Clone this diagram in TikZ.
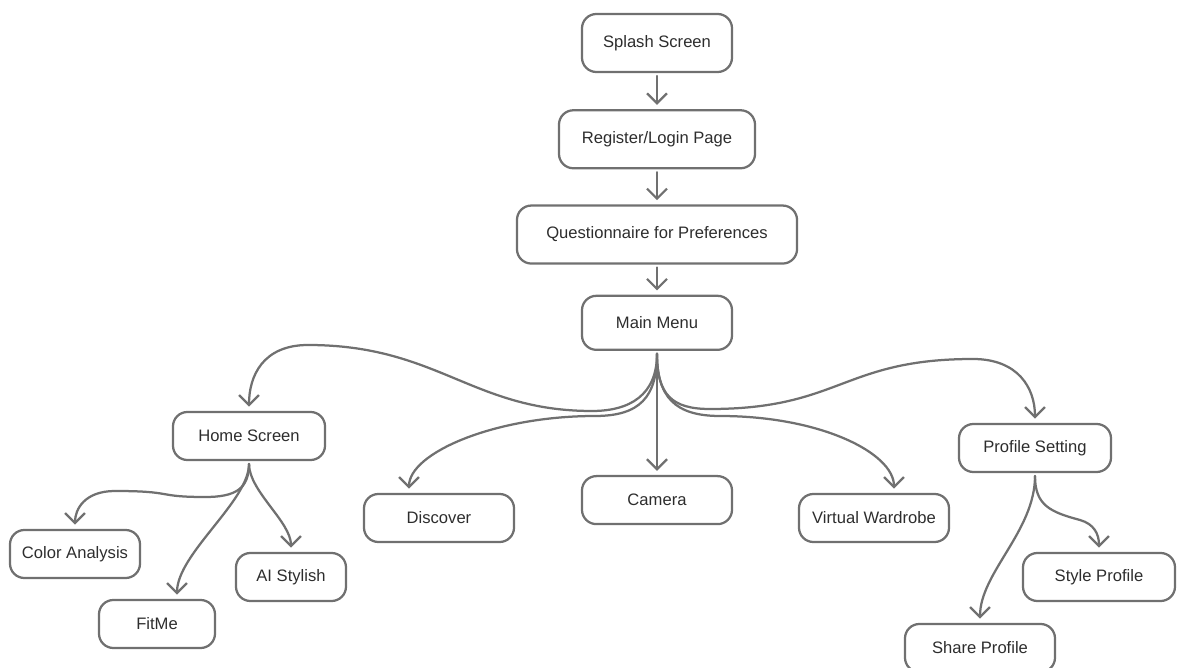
\documentclass[tikz,border=0pt]{standalone}
\usepackage{fontspec}
\setmainfont{Liberation Sans}
\usetikzlibrary{arrows.meta, positioning}
\definecolor{linegray}{RGB}{112,112,112}
\definecolor{textgray}{RGB}{45,45,45}
\tikzset{
    screen/.style = {rectangle, rounded corners=3.6mm, minimum height=1.2cm, text centered, draw=linegray, line width=1.6pt, text=textgray, font=\fontsize{11.8}{14}\selectfont},
    arrow/.style = {draw=linegray, line width=1.6pt, line cap=round, -{Straight Barb[length=2.5mm, width=5mm, line width=1.6pt]}, shorten <=2pt, shorten >=3pt}
}

\begin{document}
\begin{tikzpicture}[x=0.025cm, y=-0.025cm]
\useasboundingbox (0,0) rectangle (1178,668);

% Main flow
\node (splash) [screen, minimum width=3.75cm, minimum height=1.45cm] at (657,43) {Splash Screen};
\node (login) [screen, minimum width=4.9cm, minimum height=1.45cm, below=0.9cm of splash] {Register/Login Page};
\node (quest) [screen, minimum width=7cm, minimum height=1.45cm, below=0.875cm of login] {Questionnaire for Preferences};
\node (menu) [screen, minimum width=3.75cm, minimum height=1.35cm, below=0.75cm of quest] {Main Menu};

% Menu branches
\node (camera) [screen, minimum width=3.75cm, below=3.1cm of menu] {Camera};
\node (home) [screen, minimum width=3.8cm] at (249,436) {Home Screen};
\node (discover) [screen, minimum width=3.75cm] at (439,518) {Discover};
\node (wardrobe) [screen, minimum width=3.75cm] at (874,518) {Virtual Wardrobe};
\node (profile) [screen, minimum width=3.8cm] at (1035,448) {Profile Setting};

% Sub screens
\node (color) [screen, minimum width=3.25cm] at (75,554) {Color Analysis};
\node (fitme) [screen, minimum width=2.9cm] at (157,624) {FitMe};
\node (stylish) [screen, minimum width=2.75cm] at (291,577) {AI Stylish};
\node (styleprof) [screen, minimum width=3.8cm] at (1099,577) {Style Profile};
\node (share) [screen, minimum width=3.75cm] at (980,648) {Share Profile};

% Connections - main flow
\draw [arrow] (splash) -- (login);
\draw [arrow] (login) -- (quest);
\draw [arrow] (quest) -- (menu);

% Connections - menu fan
\draw [arrow] (menu.south) -- (camera.north);
\draw [arrow] (menu.south) .. controls +(0,44) and +(38,0) .. (592,411)
    .. controls +(-120,0) and +(130,0) .. (308,345)
    .. controls +(-45,0) and +(0,-35) .. (home.north);
\draw [arrow] (menu.south) .. controls +(0,46) and +(45,0) .. (595,416)
    .. controls +(-100,0) and +(0,-40) .. ([xshift=-0.75cm]discover.north);
\draw [arrow] (menu.south) .. controls +(0,46) and +(-45,0) .. (720,416)
    .. controls +(100,0) and +(0,-40) .. ([xshift=0.5cm]wardrobe.north);
\draw [arrow] (menu.south) .. controls +(0,44) and +(-38,0) .. (710,409)
    .. controls +(130,0) and +(-130,0) .. (973,359)
    .. controls +(45,0) and +(0,-35) .. (profile.north);

% Connections - home screen
\draw [arrow] (home.south) .. controls +(0,28) and +(30,0) .. (205,497)
    .. controls +(-50,0) and +(60,0) .. (115,491)
    .. controls +(-30,0) and +(0,-20) .. (color.north);
\draw [arrow] (home.south) .. controls +(0,40) and +(0,-45) .. ([xshift=0.5cm]fitme.north);
\draw [arrow] (home.south) .. controls +(0,30) and +(0,-30) .. (stylish.north);

% Connections - profile setting
\draw [arrow] (profile.south) .. controls +(0,32) and +(-30,-8) .. (1080,520)
    .. controls +(14,4) and +(0,-18) .. (styleprof.north);
\draw [arrow] (profile.south) .. controls +(0,58) and +(0,-50) .. (share.north);

\end{tikzpicture}
\end{document}
